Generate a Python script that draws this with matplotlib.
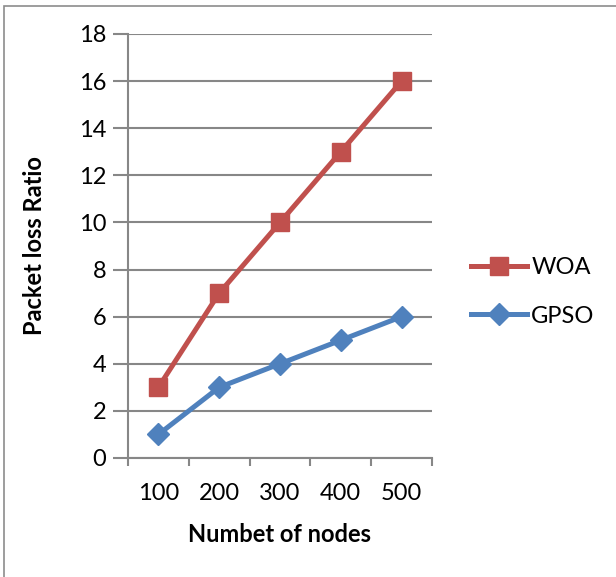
import matplotlib
matplotlib.use("Agg")
import matplotlib.pyplot as plt
from matplotlib.patches import Rectangle
from matplotlib.lines import Line2D

nodes = ["100", "200", "300", "400", "500"]
woa = [3, 7, 10, 13, 16]
gpso = [1, 3, 4, 5, 6]

RED = "#C0504D"
BLUE = "#4F81BD"
GRID = "#878787"
FS = 17

plt.rcParams["font.family"] = ["Lato", "DejaVu Sans"]

fig = plt.figure(figsize=(6.16, 5.77), dpi=100)
# chart frame
fig.patches.append(Rectangle((4 / 616, -0.01), 1.0, 1 - 6 / 577 + 0.01,
                             transform=fig.transFigure, fill=False,
                             edgecolor="#8c8c8c", lw=1.2))

ax = fig.add_axes([128 / 616, 119 / 577, 304 / 616, 424 / 577])
x = list(range(len(nodes)))

ax.set_xlim(-0.5, len(nodes) - 0.5)
ax.set_ylim(0, 18)
ax.set_yticks(range(0, 19, 2))
ax.yaxis.grid(True, color=GRID, lw=1.5)
ax.set_axisbelow(True)

for s in ("top", "right"):
    ax.spines[s].set_visible(False)
for s in ("left", "bottom"):
    ax.spines[s].set_color(GRID)
    ax.spines[s].set_linewidth(1.5)

ax.set_xticks(x)
ax.set_xticklabels(nodes)
ax.set_xticks([i - 0.5 for i in range(len(nodes) + 1)], minor=True)
ax.tick_params(axis="x", which="major", length=0, pad=18, labelsize=FS)
ax.tick_params(axis="x", which="minor", length=6, width=1.5, color=GRID)
ax.tick_params(axis="y", length=10.5, width=1.5, color=GRID, pad=5, labelsize=FS)

ax.plot(x, woa, color=RED, lw=3.6, marker="s", ms=13, label="WOA", clip_on=False)
ax.plot(x, gpso, color=BLUE, lw=3.6, marker="D", ms=11, label="GPSO", clip_on=False)

ax.set_xlabel("Numbet of nodes", fontsize=FS, fontweight="bold", labelpad=14)
ax.set_ylabel("Packet loss Ratio", fontsize=FS, fontweight="bold", labelpad=24)

handles = [Line2D([], [], color=RED, lw=3.6, marker="s", ms=13),
           Line2D([], [], color=BLUE, lw=3.6, marker="D", ms=11)]
fig.legend(handles, ["WOA", "GPSO"], loc="center left",
           bbox_to_anchor=(464 / 616, 1 - 292 / 577), frameon=False,
           fontsize=FS, handlelength=2.35, handletextpad=0.2, labelspacing=1.15,
           borderaxespad=0, borderpad=0.3)

fig.savefig("out.png", dpi=100)
